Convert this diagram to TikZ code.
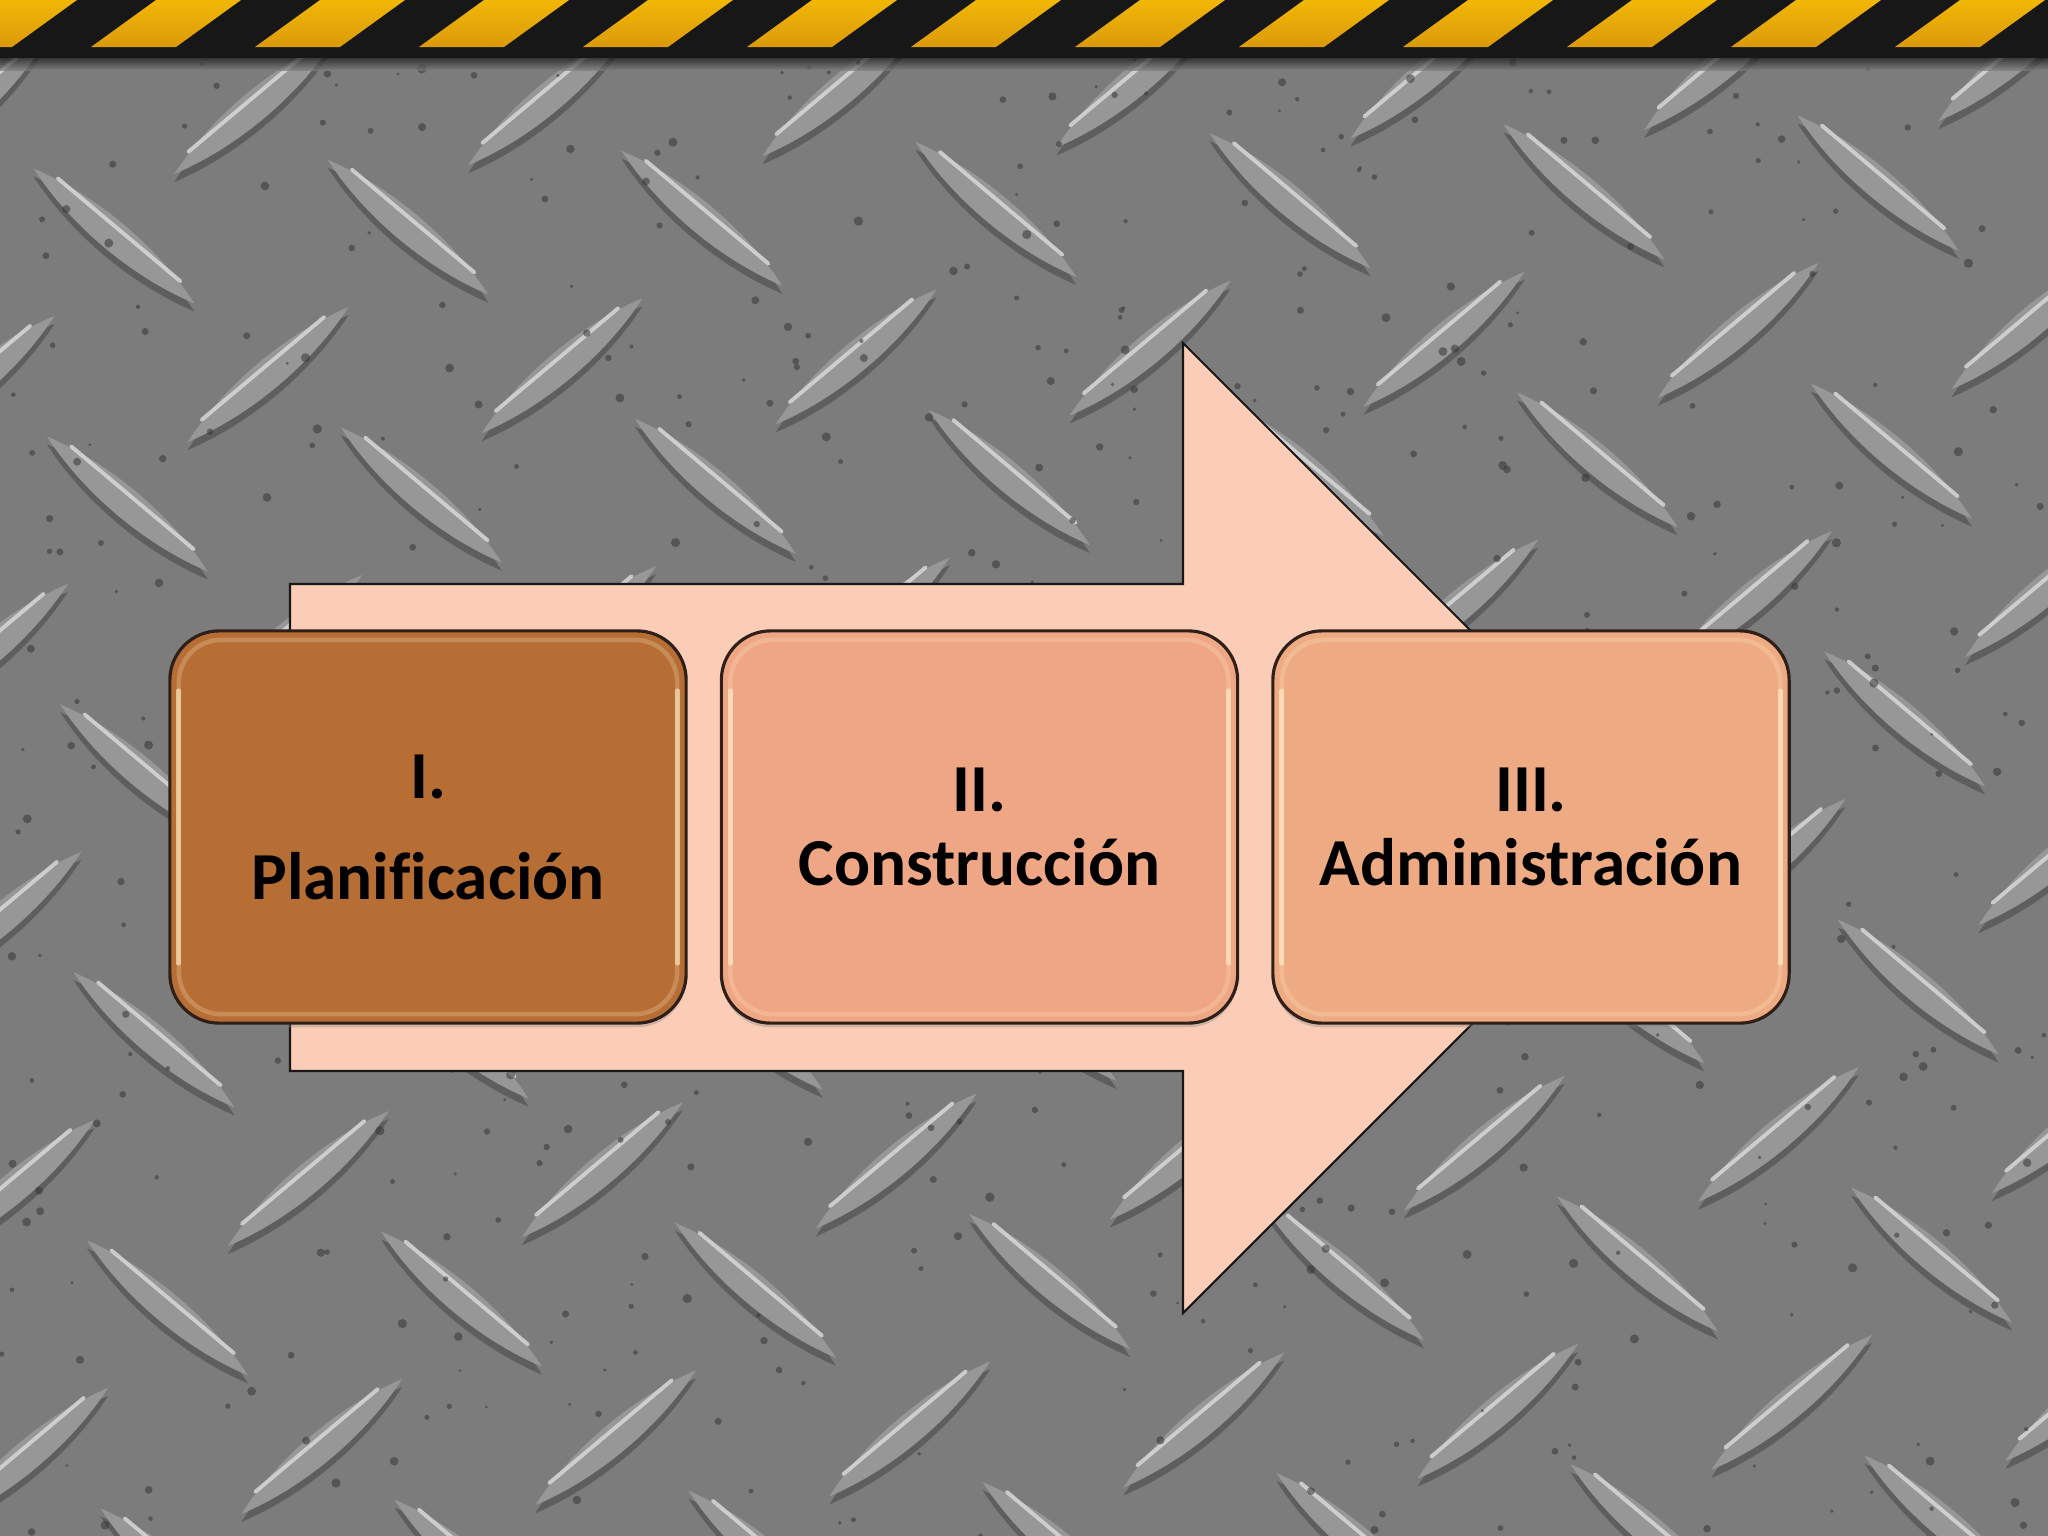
\documentclass[tikz,border=0pt]{standalone}
\usepackage{fontspec}
\setmainfont{Carlito}[Ligatures=NoCommon]
\usetikzlibrary{shadows}
\definecolor{bgc}{HTML}{7C7C7C}
\definecolor{barc}{HTML}{979797}
\definecolor{barshadow}{HTML}{3A3A3A}
\definecolor{barhl}{HTML}{D8D8D8}
\definecolor{speck}{HTML}{353535}
\definecolor{hazy1}{HTML}{F2B705}
\definecolor{hazy2}{HTML}{DA9A0A}
\definecolor{hazk}{HTML}{171717}
\definecolor{arrowc}{HTML}{FBCDB6}
\definecolor{boxA}{HTML}{B76E35}
\definecolor{boxB}{HTML}{EFA685}
\definecolor{boxC}{HTML}{EEAA83}
\definecolor{boxline}{HTML}{2E2018}
\definecolor{bevelc}{HTML}{FFF3CC}
\newcommand{\platebar}[3]{%
  \fill[barshadow, opacity=.45, shift={(#1,#2+8)}, rotate=#3]
    (-105,0) .. controls (-40,-20) and (40,-20) .. (105,0)
    .. controls (40,20) and (-40,20) .. (-105,0) -- cycle;
  \fill[barc, shift={(#1,#2)}, rotate=#3]
    (-105,0) .. controls (-40,-20) and (40,-20) .. (105,0)
    .. controls (40,20) and (-40,20) .. (-105,0) -- cycle;
  \draw[barhl, opacity=.85, line width=1.1pt, line cap=round, shift={(#1,#2)}, rotate=#3]
    (-80,-8) -- (80,-8);
}
\tikzset{
  stepbox/.style={rectangle, rounded corners=14pt, minimum width=5.16cm,
    minimum height=3.92cm, inner sep=0pt, outer sep=0pt, draw=boxline,
    line width=0.9pt, align=center, text=black,
    font=\fontsize{19.1}{20.8}\selectfont\bfseries,
    drop shadow={opacity=0.35, shadow xshift=0pt, shadow yshift=-1.2pt}},
  bevel/.style={rounded corners=12pt, draw=bevelc, draw opacity=.22, line width=1.3pt},
  bevelside/.style={draw=bevelc, draw opacity=.6, line width=1.4pt, line cap=round},
  bigarrow/.style={fill=arrowc, draw=hazk, line width=0.6pt, line join=miter},
  speckdot/.style={fill=speck, fill opacity=.55},
}
\begin{document}
\begin{tikzpicture}[x=0.01cm,y=-0.01cm]
\useasboundingbox (0,0) rectangle (2048,1536);
\begin{scope}
\clip (0,0) rectangle (2048,1536);
% diamond plate background
\fill[bgc] (0,0) rectangle (2048,1536);
\foreach \i in {-1,...,7}{
  \foreach \j in {-1,...,6}{
    \pgfmathsetmacro\px{102+294*\i+0.05*(239+268*\j)}
    \pgfmathsetmacro\py{239+268*\j-0.03*(102+294*\i)}
    \platebar{\px}{\py}{-40}
    \pgfmathsetmacro\qx{249+294*\i+0.05*(114+268*\j)}
    \pgfmathsetmacro\qy{114+268*\j-0.03*(249+294*\i)}
    \platebar{\qx}{\qy}{40}
  }
}
\pgfmathsetseed{11}
\foreach \k in {1,...,520}{
  \pgfmathsetmacro\sx{rnd*2048}
  \pgfmathsetmacro\sy{60+rnd*1480}
  \pgfmathsetmacro\sr{1.5+rnd*3.2}
  \fill[speckdot] (\sx,\sy) circle[radius=\sr];
}
% hazard band
\fill[hazk] (0,0) rectangle (2048,58);
\foreach \k in {-1,...,13}{
  \pgfmathsetmacro\xb{91+164*\k}
  \shade[top color=hazy1, bottom color=hazy2]
    (\xb,47) -- (\xb+85,47) -- (\xb+150,0) -- (\xb+65,0) -- cycle;
}
\shade[top color=hazk, bottom color=bgc, opacity=.7] (0,58) rectangle (2048,70);
\end{scope}
% big arrow
\draw[bigarrow] (290,584) -- (1183,584) -- (1183,343) -- (1668,828)
  -- (1183,1313) -- (1183,1071) -- (290,1071) -- cycle;
% boxes
\node[stepbox, fill=boxA] (b1) at (428,827) {I.\\[7.9pt]Planificación};
\node[stepbox, fill=boxB] (b2) at (979.5,827) {II.\\Construcción};
\node[stepbox, fill=boxC] (b3) at (1531,827) {III.\\Administración};
\foreach \b in {b1,b2,b3}{
  \draw[bevel] ([shift={(9,9)}]\b.north west) rectangle ([shift={(-9,-9)}]\b.south east);
  \draw[bevelside] ([shift={(9,60)}]\b.north west) -- ([shift={(9,-60)}]\b.south west);
  \draw[bevelside] ([shift={(-9,60)}]\b.north east) -- ([shift={(-9,-60)}]\b.south east);
}
\end{tikzpicture}
\end{document}
